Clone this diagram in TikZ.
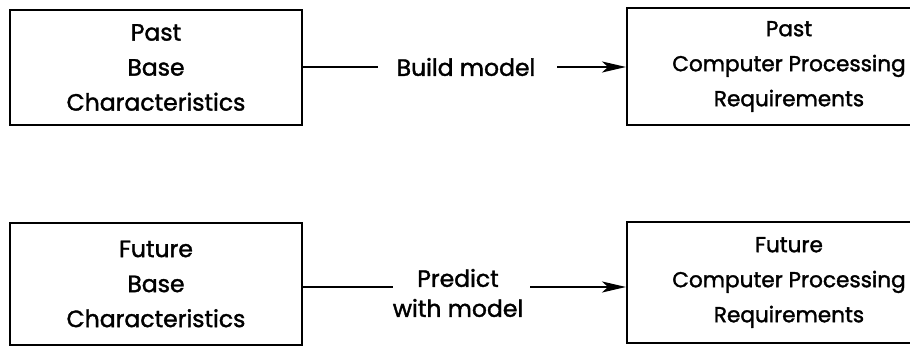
\documentclass[tikz,border=0pt]{standalone}
\usepackage{fontspec}
\setmainfont{Poppins}[FakeBold=1.6]
\usetikzlibrary{arrows.meta}
\begin{document}
\begin{tikzpicture}[x=1pt,y=-1pt,
  box/.style={draw=black, line width=2pt, align=center, inner sep=0pt,
    font=\fontsize{23.5}{35}\selectfont},
  rbox/.style={box, font=\fontsize{21.6}{35}\selectfont},
  lbl/.style={align=center, inner sep=0pt, font=\fontsize{23.5}{30}\selectfont},
  conn/.style={line width=2pt},
  arr/.style={line width=2pt, -{Stealth[length=24pt,width=11pt,inset=6pt]}}]
\useasboundingbox (0,0) rectangle (910,347);
\clip (0,0) rectangle (910,347);
\fill[white] (0,0) rectangle (910,347);
\node[box, minimum width=292pt, minimum height=115pt] (pb) at (156,67.5)
  {Past\\Base\\Characteristics};
\node[rbox, minimum width=324pt, minimum height=117pt] (pc) at (789,66.5)
  {Past\\Computer Processing\\Requirements};
\node[box, minimum width=292pt, minimum height=122pt] (fb) at (156,284)
  {Future\\Base\\Characteristics};
\node[rbox, minimum width=324pt, minimum height=121pt] (fc) at (789,282.5)
  {Future\\Computer Processing\\Requirements};
\node[lbl] (bm) at (466,67) {Build model};
\node[lbl] (pm) at (458,293) {Predict\\with model};
\coordinate (b1) at (378,67);
\coordinate (b2) at (557,67);
\coordinate (p1) at (393,287);
\coordinate (p2) at (530,287);
\draw[conn] (pb.east |- b1) -- (b1);
\draw[arr] (b2) -- (pc.west |- b2);
\draw[conn] (fb.east |- p1) -- (p1);
\draw[arr] (p2) -- (fc.west |- p2);
\end{tikzpicture}
\end{document}
